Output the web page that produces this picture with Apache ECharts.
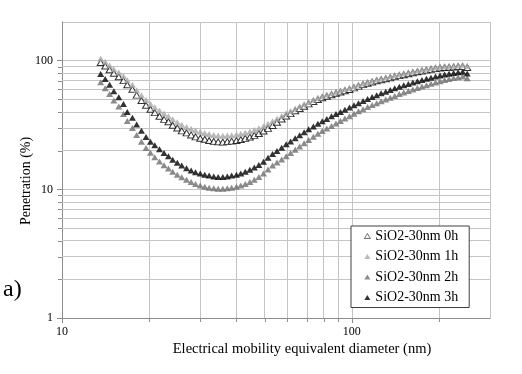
<!DOCTYPE html>
<html><head><meta charset="utf-8">
<script src="https://cdn.jsdelivr.net/npm/echarts@6/dist/echarts.min.js"></script>
<style>html,body{margin:0;padding:0;background:#fff}#c{width:522px;height:374px}</style>
</head><body><div id="c"></div>
<script>
const seriesNames = ['SiO2-30nm 0h', 'SiO2-30nm 1h', 'SiO2-30nm 2h', 'SiO2-30nm 3h'];
const diameters = [13.6,14.1,14.6,15.1,15.7,16.3,16.8,17.5,18.1,18.8,19.5,20.2,20.9,21.7,22.5,23.3,24.1,25.0,25.9,26.9,27.9,28.9,30.0,31.1,32.2,33.4,34.6,35.9,37.2,38.5,40.0,41.4,42.9,44.5,46.1,47.8,49.6,51.4,53.3,55.2,57.3,59.4,61.5,63.8,66.1,68.5,71.0,73.7,76.4,79.1,82.0,85.1,88.2,91.4,94.7,98.2,101.8,105.5,109.4,113.4,117.6,121.9,126.3,131.0,135.8,140.7,145.9,151.2,156.8,162.5,168.5,174.7,181.1,187.7,194.6,201.7,209.1,216.7,224.7,232.9,241.4,250.3];
const pen0h = [97,91,85,80,75,70,65,60,54,49,45,42,39.5,37,35,33.5,31.5,30,28.5,27.5,26.5,25.6,25,24.5,24,23.6,23.4,23.3,23.5,23.7,24,24.4,24.9,25.5,26.3,27.2,28.4,29.8,31.4,33.2,35.2,37.2,38.8,40.8,42.5,44.3,46.2,48.2,50,51.6,53,54.4,55.8,57.2,58.5,59.8,61.5,63.5,65.2,66.8,68.3,69.8,71.1,72.4,73.8,75.2,76.6,77.9,79.3,80.7,82,83.3,84.5,85.7,86.8,87.8,88.5,89,89.5,90,90,88.5];
const pen1h = [104,98,92,86,81,76,70.5,65,59,54,49.5,46,43.5,41,38.8,37,35,33.3,31.8,30.6,29.6,28.7,28,27.4,26.9,26.5,26.2,26.1,26.2,26.4,26.7,27.1,27.6,28.2,29,29.9,31,32.3,33.8,35.4,37.2,39,40.6,42.5,44.2,46,47.8,49.7,51.5,53.1,54.6,56,57.4,58.8,60.2,61.6,63.4,65.2,66.8,68.4,69.9,71.4,72.8,74.2,75.6,77,78.4,79.8,81.2,82.6,84,85.3,86.6,87.8,88.8,89.7,90.4,91,91.6,92.2,93,91.5];
const pen2h = [68,61,55,49,44,38.5,34,30,26.5,23.5,21,19.3,17.8,16.5,15.4,14.5,13.7,13,12.4,11.9,11.4,11,10.7,10.5,10.3,10.2,10.1,10.1,10.2,10.3,10.5,10.7,11,11.4,11.9,12.5,13.3,14.3,15.3,16.2,17.1,18.1,19.2,20.3,21.5,22.8,24.2,25.6,27,28.4,29.7,31.1,32.5,34,35.5,37,38.7,40.4,42,43.6,45.2,46.8,48.4,50,51.6,53.3,55,56.6,58.2,59.8,61.4,63,64.6,66.2,67.8,69.3,70.7,72,73.3,74.5,75.5,73];
const pen3h = [79,72,65,58,52,46,40,36,32,28.5,25.5,23.5,22,20.5,19.2,18.1,17,16.1,15.3,14.6,14,13.6,13.3,13,12.8,12.6,12.5,12.5,12.6,12.8,13,13.3,13.7,14.2,14.8,15.5,16.4,17.6,18.8,19.9,21.1,22.4,23.6,25,26.4,27.8,29.3,30.8,32.3,33.8,35.3,37,38.5,40,41.6,43.2,45,46.8,48.6,50.4,52.2,54,55.8,57.5,59.2,61,62.8,64.5,66,67.6,69.2,70.8,72.3,73.8,75.3,76.7,78,79.2,80.3,81.3,82,79.5];
const xMinorGrid = [20,30,40,50,60,70,80,90,200];
const yMinorGrid = [2,3,4,5,6,7,8,9,20,30,40,50,60,70,80,90];
const xTitle = 'Electrical mobility equivalent diameter (nm)';
const yTitle = 'Penetration (%)';
const panelLabel = 'a)';

const font = '"Liberation Serif", "Times New Roman", serif';
const gridColor = '#c4c4c4';
const axisColor = '#8c8c8c';
function pts(vals) { return diameters.map((d, i) => [d, vals[i]]); }
const styles = [
  { color: '#ffffff', borderColor: '#000000', borderWidth: 1 },
  { color: '#a8a8a8', borderColor: '#a8a8a8', borderWidth: 0 },
  { color: '#6e6e6e', borderColor: '#6e6e6e', borderWidth: 0 },
  { color: '#000000', borderColor: '#000000', borderWidth: 0 }
];
const legendStyles = [
  { color: '#ffffff', borderColor: '#000000', borderWidth: 0.7 },
  { color: '#a8a8a8', borderWidth: 0 },
  { color: '#6e6e6e', borderWidth: 0 },
  { color: '#000000', borderWidth: 0 }
];
const values = [pen0h, pen1h, pen2h, pen3h];

const chart = echarts.init(document.getElementById('c'), null, { renderer: 'canvas' });
const option = {
  animation: false,
  backgroundColor: '#ffffff',
  grid: { left: 62, right: 32, top: 22, bottom: 56 },
  xAxis: {
    type: 'log', logBase: 10, min: 10, max: 300,
    axisLine: { lineStyle: { color: axisColor, width: 1 } },
    axisTick: { show: true, length: 5, lineStyle: { color: axisColor } },
    axisLabel: { fontFamily: font, fontSize: 12, color: '#000', margin: 8, showMaxLabel: false },
    splitLine: { show: true, lineStyle: { color: gridColor, width: 1 } }
  },
  yAxis: {
    type: 'log', logBase: 10, min: 1, max: 200,
    axisLine: { show: true, lineStyle: { color: axisColor, width: 1 } },
    axisTick: { show: true, length: 5, lineStyle: { color: axisColor } },
    axisLabel: { fontFamily: font, fontSize: 12, color: '#000', margin: 9, showMaxLabel: false },
    splitLine: { show: true, lineStyle: { color: gridColor, width: 1 } }
  },
  legend: {
    data: seriesNames.map((n, i) => ({ name: n, itemStyle: legendStyles[i] })), z: 20,
    orient: 'vertical', left: 351, top: 226,
    backgroundColor: '#ffffff', borderColor: '#404040', borderWidth: 1, borderRadius: 0,
    padding: [2, 11, 2, 13], itemGap: 4.5, itemWidth: 6, itemHeight: 5, itemTextGap: 6,
    selectedMode: false,
    textStyle: { fontFamily: font, fontSize: 14, color: '#000', lineHeight: 16 }
  },
  series: [{
    type: 'line', name: '_grid', data: [], silent: true, z: 1,
    markLine: {
      silent: true, symbol: ['none', 'none'], animation: false, z: 1,
      label: { show: false },
      lineStyle: { color: gridColor, width: 1, type: 'solid' },
      emphasis: { disabled: true },
      data: xMinorGrid.map(v => ({ xAxis: v })).concat(yMinorGrid.map(v => ({ yAxis: v })))
    }
  }].concat(seriesNames.map((n, i) => ({
    type: 'scatter', name: n, data: pts(values[i]),
    symbol: 'triangle', symbolSize: [7, 6], z: 2 + i,
    itemStyle: styles[i], emphasis: { disabled: true }
  })))
};
chart.setOption(option);

// titles, panel label and minor tick marks placed through the axes' own scales
const x0 = chart.convertToPixel({ xAxisIndex: 0 }, 10);
const yBottom = chart.convertToPixel({ yAxisIndex: 0 }, 1);
const graphics = [
  { type: 'text', x: 302, y: 349, z: 30,
    style: { text: xTitle, font: '14.5px ' + font, fill: '#000', textAlign: 'center', textVerticalAlign: 'middle' } },
  { type: 'text', x: 26, y: 181, rotation: Math.PI / 2, z: 30,
    style: { text: yTitle, font: '14px ' + font, fill: '#000', textAlign: 'center', textVerticalAlign: 'middle' } },
  { type: 'text', left: 3, top: 278, z: 30,
    style: { text: panelLabel, font: '24px "Liberation Serif"', fill: '#000' } }
];
xMinorGrid.forEach(v => {
  const px = Math.round(chart.convertToPixel({ xAxisIndex: 0 }, v)) + 0.5;
  graphics.push({ type: 'line', z: 30, shape: { x1: px, y1: yBottom, x2: px, y2: yBottom + 4 }, style: { stroke: axisColor, lineWidth: 1 } });
});
yMinorGrid.forEach(v => {
  const py = Math.round(chart.convertToPixel({ yAxisIndex: 0 }, v)) + 0.5;
  graphics.push({ type: 'line', z: 30, shape: { x1: x0 - 4, y1: py, x2: x0, y2: py }, style: { stroke: axisColor, lineWidth: 1 } });
});
chart.setOption({ graphic: graphics });
</script></body></html>
